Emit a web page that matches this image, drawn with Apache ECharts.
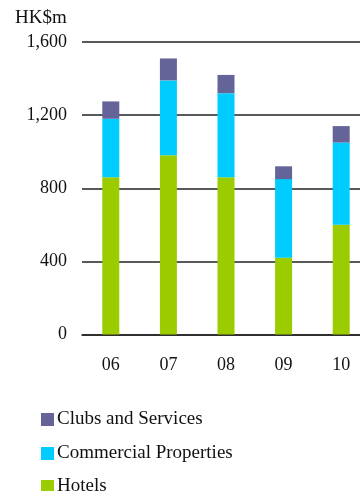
<!DOCTYPE html>
<html>
<head>
<meta charset="utf-8">
<style>
  html, body { margin: 0; padding: 0; background: #ffffff; }
  #chart { width: 360px; height: 491px; }
</style>
<script src="https://cdn.jsdelivr.net/npm/echarts@6/dist/echarts.min.js"></script>
</head>
<body>
<div id="chart"></div>
<script>
// Years shown on the category axis
var years = ['06', '07', '08', '09', '10'];

// Segment values, HK$ million
var hotels = [860, 980, 860, 420, 600];
var commercialProperties = [320, 410, 460, 430, 450];
var clubsAndServices = [95, 120, 100, 70, 90];

// Value axis ticks
var yTicks = [0, 400, 800, 1200, 1600];

// Legend entries, top to bottom
var legendNames = ['Clubs and Services', 'Commercial Properties', 'Hotels'];

var serif = '"Liberation Serif", "DejaVu Serif", serif';

var chart = echarts.init(document.getElementById('chart'));

function segment(name, data, color) {
  return {
    name: name,
    type: 'bar',
    stack: 'total',
    data: data,
    barWidth: 17,
    itemStyle: { color: color },
    emphasis: { disabled: true }
  };
}

// One legend block per entry so the list stays in a single column
var legendTops = [410, 444, 477];
var legends = legendNames.map(function (name, i) {
  return {
    left: 41,
    top: legendTops[i],
    padding: 0,
    itemWidth: 13,
    itemHeight: 13,
    icon: 'rect',
    data: [name],
    textStyle: { fontFamily: serif, fontSize: 19, lineHeight: 14, color: '#111', padding: [0, 0, 0, -2] }
  };
});

chart.setOption({
  animation: false,
  title: {
    text: 'HK$m',
    left: 15,
    top: 9,
    padding: 0,
    textStyle: { fontFamily: serif, fontSize: 19, fontWeight: 'normal', color: '#111' }
  },
  grid: { left: 82, top: 42, width: 288, height: 292.5, outerBoundsMode: 'none' },
  xAxis: {
    type: 'category',
    data: years,
    axisLine: { show: true, lineStyle: { color: '#222', width: 1.5 } },
    axisTick: { show: false },
    axisLabel: { fontFamily: serif, fontSize: 18, color: '#111', margin: 22 }
  },
  yAxis: {
    type: 'value',
    min: yTicks[0],
    max: yTicks[yTicks.length - 1],
    interval: yTicks[1] - yTicks[0],
    axisLine: { show: false },
    axisTick: { show: false },
    splitLine: { lineStyle: { color: '#222', width: 1.5 } },
    axisLabel: {
      fontFamily: serif, fontSize: 18, color: '#111', margin: 15,
      formatter: function (v) { return v.toLocaleString('en-US'); }
    }
  },
  legend: legends,
  series: [
    segment('Hotels', hotels, '#9ACC00'),
    segment('Commercial Properties', commercialProperties, '#00CCFF'),
    segment('Clubs and Services', clubsAndServices, '#646499')
  ]
});
</script>
</body>
</html>
